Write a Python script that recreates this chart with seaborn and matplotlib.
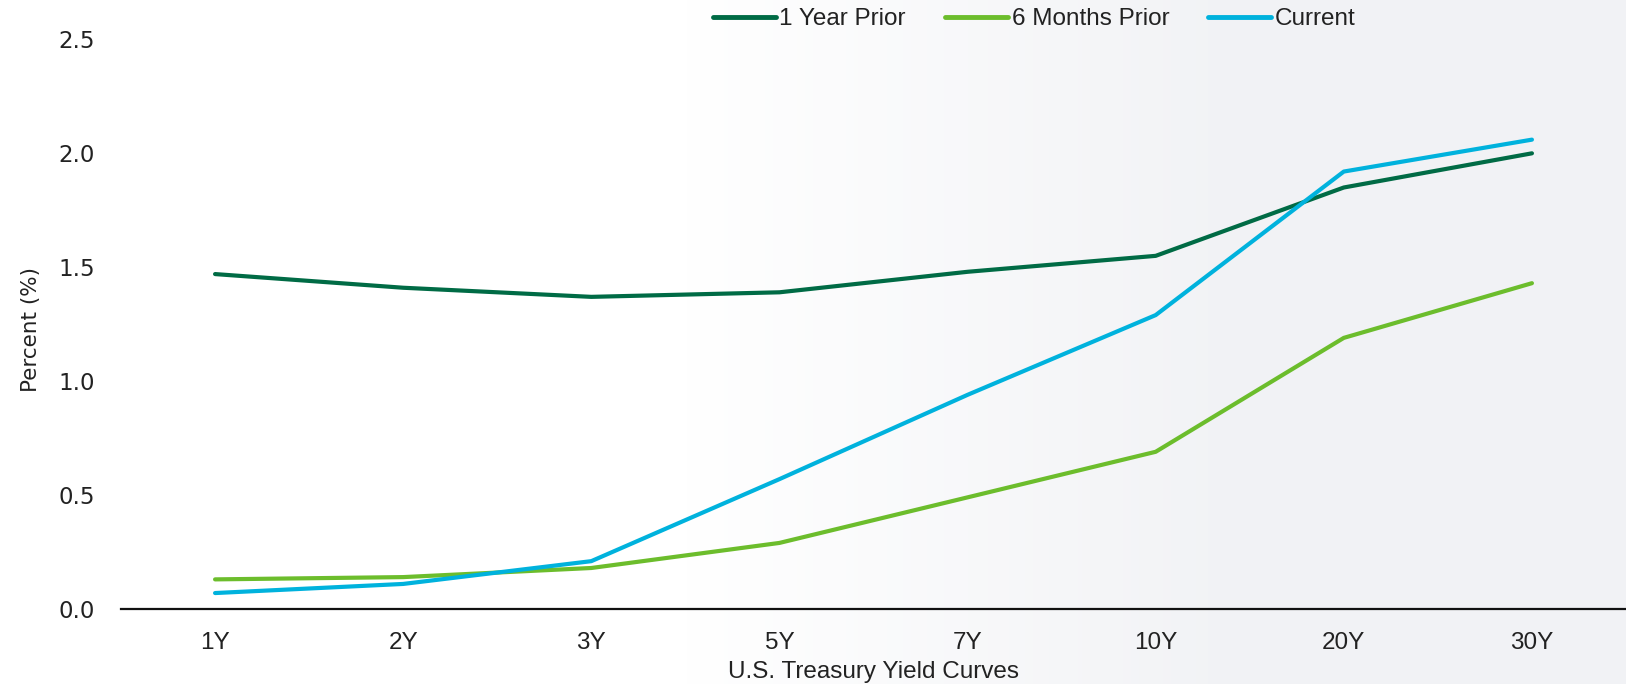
import numpy as np
import pandas as pd
import matplotlib
matplotlib.use("Agg")
import matplotlib.pyplot as plt
from matplotlib import font_manager
from matplotlib.colors import LinearSegmentedColormap
import seaborn as sns

# Treasury maturities and yields (%)
maturities = ["1Y", "2Y", "3Y", "5Y", "7Y", "10Y", "20Y", "30Y"]
year_prior = [1.47, 1.41, 1.37, 1.39, 1.48, 1.55, 1.85, 2.00]
six_months_prior = [0.13, 0.14, 0.18, 0.29, 0.49, 0.69, 1.19, 1.43]
current = [0.07, 0.11, 0.21, 0.57, 0.94, 1.29, 1.92, 2.06]
series_names = ["1 Year Prior", "6 Months Prior", "Current"]
series_colors = ["#006B45", "#6CBD2C", "#00B2DD"]
y_ticks = [0.0, 0.5, 1.0, 1.5, 2.0, 2.5]

df = pd.DataFrame({
    "Maturity": maturities * 3,
    "Yield": year_prior + six_months_prior + current,
    "Series": sum([[n] * len(maturities) for n in series_names], []),
})

sns.set_theme(style="white")
installed = {f.name for f in font_manager.fontManager.ttflist}
narrow = next((f for f in ["Liberation Sans Narrow", "Liberation Sans"] if f in installed),
              "DejaVu Sans")
wide = "DejaVu Sans"
plt.rcParams["font.family"] = [wide]

fig = plt.figure(figsize=(16.26, 6.84), dpi=100)
fig.patch.set_facecolor("white")

# soft grey wash toward the right side of the canvas
bg = fig.add_axes([0, 0, 1, 1], zorder=-10)
grad = np.clip((np.linspace(0, 1, 400) - 0.42) / 0.35, 0, 1)[None, :]
cmap = LinearSegmentedColormap.from_list("wash", ["#ffffff", "#f1f2f5"])
bg.imshow(grad, aspect="auto", cmap=cmap, extent=[0, 1, 0, 1], vmin=0, vmax=1)
bg.set_axis_off()

ax = fig.add_axes([121 / 1626, 1 - 609 / 684, 1 - 121 / 1626, (609 - 39.4) / 684])
ax.patch.set_alpha(0)

sns.lineplot(data=df, x="Maturity", y="Yield", hue="Series", hue_order=series_names,
             palette=series_colors, sort=False, errorbar=None, linewidth=3.0,
             ax=ax, legend=False)
for line in ax.lines:
    line.set_solid_capstyle("round")
    line.set_solid_joinstyle("round")

ax.set_xlim(-0.5, len(maturities) - 0.5)
ax.set_ylim(0, 2.5)
ax.set_yticks(y_ticks)
ax.set_yticklabels([f"{t:.1f}" for t in y_ticks], fontsize=16.5, color="#222222",
                   fontfamily=wide)
ax.set_xticks(range(len(maturities)))
ax.set_xticklabels(maturities, fontsize=17.5, color="#222222", fontfamily=narrow)
ax.tick_params(axis="y", length=0, pad=19)
ax.tick_params(axis="x", length=0, pad=16.5)

for side in ["left", "right", "top"]:
    ax.spines[side].set_visible(False)
ax.spines["bottom"].set_color("#111111")
ax.spines["bottom"].set_linewidth(1.6)

ax.set_xlabel("U.S. Treasury Yield Curves", fontsize=17.5, color="#222222",
              fontfamily=narrow, labelpad=5)
ax.set_ylabel("Percent (%)", fontsize=15.5, color="#222222", fontfamily=wide)
ax.yaxis.set_label_coords(-0.053, 0.49)

handles = [plt.Line2D([0], [0], color=c, linewidth=3.5, solid_capstyle="round")
           for c in series_colors]
leg = fig.legend(handles, series_names, loc="center", bbox_to_anchor=(0.636, 0.972),
                 ncol=3, frameon=False, handlelength=2.6, handletextpad=0.15,
                 columnspacing=1.6, prop={"family": narrow, "size": 17.5})
for t in leg.get_texts():
    t.set_color("#222222")

fig.savefig("out.png", dpi=100, facecolor=fig.get_facecolor())
